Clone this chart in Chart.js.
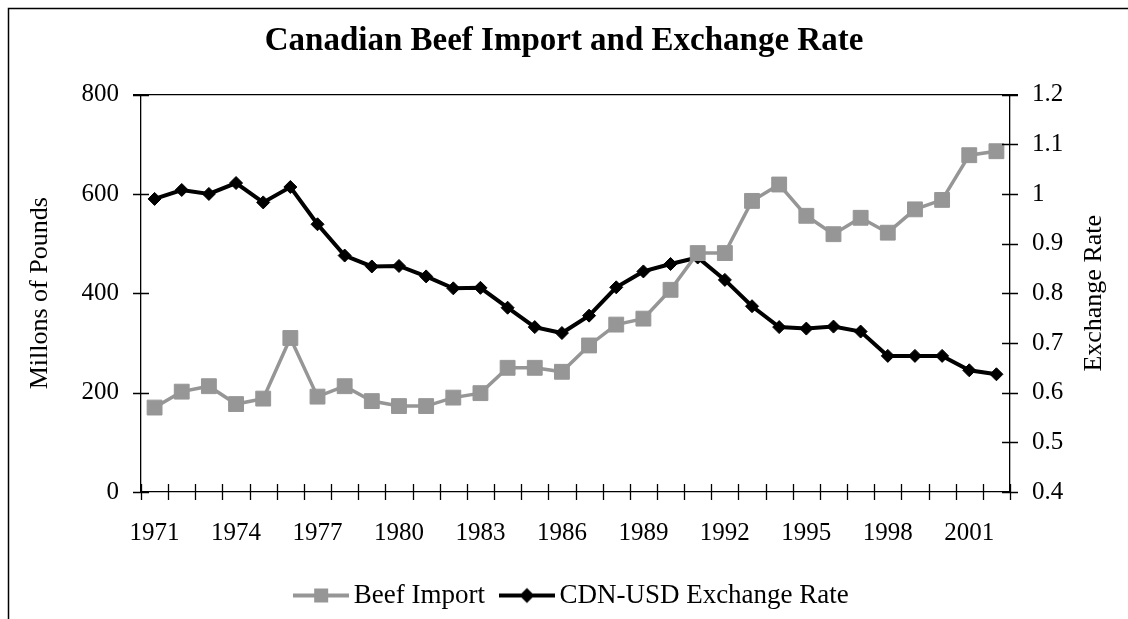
<!DOCTYPE html>
<html>
<head>
<meta charset="utf-8">
<script src="https://cdn.jsdelivr.net/npm/chart.js@4"></script>
<style>
  html, body { margin: 0; padding: 0; background: #fff; }
  #wrap { width: 1128px; height: 619px; }
</style>
</head>
<body>
<div id="wrap"><canvas id="beef-chart" width="1128" height="619"></canvas></div>
<script>
// Canadian beef imports (millions of pounds) and CDN-USD exchange rate, 1971-2002
const years = [
  '1971', '1972', '1973', '1974', '1975', '1976', '1977', '1978', '1979', '1980',
  '1981', '1982', '1983', '1984', '1985', '1986', '1987', '1988', '1989', '1990',
  '1991', '1992', '1993', '1994', '1995', '1996', '1997', '1998', '1999', '2000',
  '2001', '2002'
];
const beefImport = [
  170, 202, 213, 177, 188, 310, 192, 213, 183, 173,
  173, 190, 199, 250, 250, 242, 295, 337, 349, 407,
  481, 481, 586, 619, 556, 519, 552, 522, 569, 588,
  678, 686
];
const exchangeRate = [
  0.990, 1.008, 1.000, 1.022, 0.983, 1.014, 0.939, 0.876, 0.854, 0.855,
  0.834, 0.810, 0.811, 0.771, 0.732, 0.720, 0.755, 0.812, 0.844, 0.859,
  0.872, 0.827, 0.774, 0.732, 0.729, 0.733, 0.723, 0.674, 0.674, 0.674,
  0.645, 0.637
];
const poundsTicks = [0, 200, 400, 600, 800];
const rateTicks = [0.4, 0.5, 0.6, 0.7, 0.8, 0.9, 1.0, 1.1, 1.2];

const SERIF = "'Liberation Serif', 'Times New Roman', serif";
const GREY = '#969696';

// little line+marker swatches for the legend
function swatch(color, lineW, marker) {
  const c = document.createElement('canvas');
  c.width = 56;
  c.height = 18;
  const g = c.getContext('2d');
  g.strokeStyle = color;
  g.fillStyle = color;
  g.lineWidth = lineW;
  g.beginPath();
  g.moveTo(0, 9);
  g.lineTo(56, 9);
  g.stroke();
  if (marker === 'square') {
    g.fillRect(21, 2, 14, 14);
  } else {
    g.beginPath();
    g.moveTo(20.5, 9);
    g.lineTo(28, 1.5);
    g.lineTo(35.5, 9);
    g.lineTo(28, 16.5);
    g.closePath();
    g.fill();
  }
  return c;
}
const legendIcons = [swatch(GREY, 4, 'square'), swatch('#000', 4, 'diamond')];

// frame, cross ticks, top edge and the right-hand axis title
const decorations = {
  id: 'decorations',
  beforeDraw(chart) {
    const ctx = chart.ctx;
    ctx.save();
    ctx.fillStyle = '#fff';
    ctx.fillRect(0, 0, chart.width, chart.height);
    ctx.strokeStyle = '#000';
    ctx.lineWidth = 1.5;
    ctx.strokeRect(8.5, 8.5, chart.width + 20, chart.height + 20);
    ctx.restore();
  },
  afterDraw(chart) {
    const ctx = chart.ctx;
    const a = chart.chartArea;
    const y = chart.scales.y;
    const y1 = chart.scales.y1;
    ctx.save();
    ctx.strokeStyle = '#000';
    ctx.lineWidth = 1.3;
    ctx.beginPath();
    ctx.moveTo(a.left - 8, a.top);
    ctx.lineTo(a.right + 8, a.top);
    y.ticks.forEach((t, i) => {
      const py = Math.round(y.getPixelForTick(i)) + 0.5;
      ctx.moveTo(a.left - 8, py);
      ctx.lineTo(a.left + 8, py);
    });
    y1.ticks.forEach((t, i) => {
      const py = Math.round(y1.getPixelForTick(i)) + 0.5;
      ctx.moveTo(a.right - 8, py);
      ctx.lineTo(a.right + 8, py);
    });
    const step = (a.right - a.left) / years.length;
    for (let i = 0; i <= years.length; i++) {
      const px = Math.round(a.left + i * step) + 0.5;
      ctx.moveTo(px, a.bottom - 8);
      ctx.lineTo(px, a.bottom + 8);
    }
    ctx.stroke();

    ctx.translate(1094, (a.top + a.bottom) / 2);
    ctx.rotate(-Math.PI / 2);
    ctx.fillStyle = '#000';
    ctx.font = '26px ' + SERIF;
    ctx.textAlign = 'center';
    ctx.textBaseline = 'middle';
    ctx.fillText('Exchange Rate', 0, 0);
    ctx.restore();
  }
};

new Chart(document.getElementById('beef-chart'), {
  type: 'line',
  data: {
    labels: years,
    datasets: [
      {
        label: 'Beef Import',
        data: beefImport,
        yAxisID: 'y',
        borderColor: GREY,
        backgroundColor: GREY,
        borderWidth: 3.5,
        pointStyle: 'rect',
        pointRadius: 10.5,
        pointBorderWidth: 1,
        pointBorderColor: GREY,
        pointBackgroundColor: GREY,
        tension: 0
      },
      {
        label: 'CDN-USD Exchange Rate',
        data: exchangeRate,
        yAxisID: 'y1',
        borderColor: '#000',
        backgroundColor: '#000',
        borderWidth: 4,
        pointStyle: 'rectRot',
        pointRadius: 6.5,
        pointBorderWidth: 1,
        pointBorderColor: '#000',
        pointBackgroundColor: '#000',
        tension: 0
      }
    ]
  },
  options: {
    responsive: false,
    animation: false,
    devicePixelRatio: 1,
    layout: {
      padding: { left: 0, right: 0, top: 0, bottom: 0 }
    },
    scales: {
      x: {
        type: 'category',
        offset: true,
        grid: { display: false, drawTicks: false },
        border: { display: true, color: '#000', width: 1.3 },
        ticks: {
          autoSkip: false,
          maxRotation: 0,
          padding: 26,
          color: '#000',
          font: { family: SERIF, size: 25 },
          callback: (v, i) => (i % 3 === 0 ? years[i] : '')
        },
        afterFit: s => { s.height = 67; }
      },
      y: {
        position: 'left',
        min: 0,
        max: 800,
        afterBuildTicks: s => { s.ticks = poundsTicks.map(v => ({ value: v })); },
        grid: { display: false, drawTicks: false },
        border: { display: true, color: '#000', width: 1.3 },
        ticks: {
          padding: 22,
          color: '#000',
          font: { family: SERIF, size: 25 }
        },
        title: {
          display: true,
          text: 'Millons of Pounds',
          color: '#000',
          font: { family: SERIF, size: 26 },
          padding: { top: 25, bottom: 0 }
        },
        afterFit: s => { s.width = 141; }
      },
      y1: {
        position: 'right',
        min: 0.4,
        max: 1.2,
        afterBuildTicks: s => { s.ticks = rateTicks.map(v => ({ value: v })); },
        grid: { display: false, drawTicks: false },
        border: { display: true, color: '#000', width: 1.3 },
        ticks: {
          padding: 22,
          color: '#000',
          font: { family: SERIF, size: 25 },
          callback: v => String(+v.toFixed(1))
        },
        afterFit: s => { s.width = 118; }
      }
    },
    plugins: {
      title: {
        display: true,
        text: 'Canadian Beef Import and Exchange Rate',
        color: '#000',
        font: { family: SERIF, size: 33, weight: 'bold' },
        padding: { top: 22, bottom: 33 }
      },
      legend: {
        position: 'bottom',
        fullSize: false,
        labels: {
          usePointStyle: true,
          pointStyleWidth: 38,
          padding: 23,
          color: '#000',
          font: { family: SERIF, size: 27 },
          generateLabels: chart => chart.data.datasets.map((ds, i) => ({
            text: ds.label,
            datasetIndex: i,
            pointStyle: legendIcons[i],
            fillStyle: ds.borderColor,
            strokeStyle: ds.borderColor,
            lineWidth: 0,
            hidden: false
          }))
        }
      },
      tooltip: { enabled: false }
    }
  },
  plugins: [decorations]
});
</script>
</body>
</html>
